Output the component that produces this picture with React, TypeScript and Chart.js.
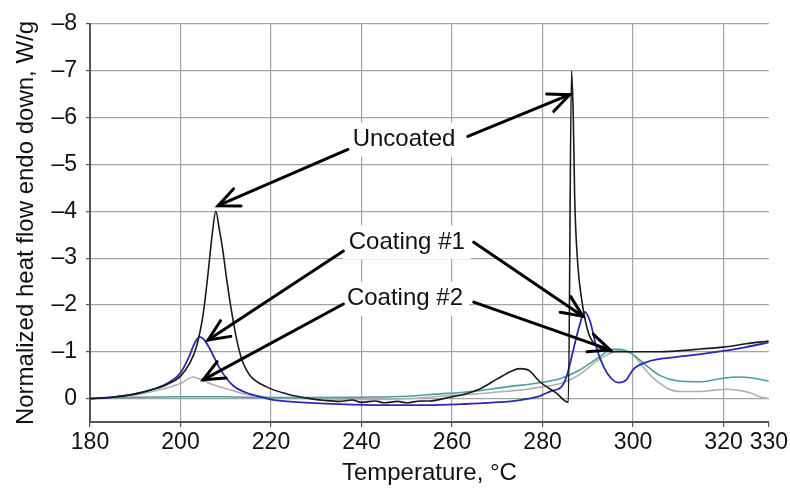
import { useEffect, useRef } from 'react';
import { Chart, registerables } from 'chart.js';

Chart.register(...registerables);

// ---- axis ticks ----
const xTickValues = [180, 200, 220, 240, 260, 280, 300, 320, 330];
const yTickValues = [-8, -7, -6, -5, -4, -3, -2, -1, 0];

// ---- Uncoated (black) ----
const uncoatedT = [180, 185, 190, 194, 197, 200, 202, 203.5, 205, 206, 207, 207.8, 208.6, 209.3, 210.2, 211.3, 212.7, 213.8, 215.3, 219, 223.5, 228.6, 232, 235, 238, 240, 243, 245, 248, 250, 253, 255, 259.5, 263, 266, 270, 273, 275, 277, 279.4, 283, 285.7, 286.4, 286.8, 287.1, 287.8, 288.6, 290, 292.7, 296, 300, 305, 310, 315, 320, 325, 330];
const uncoatedV = [0, -0.03, -0.1, -0.2, -0.3, -0.48, -0.75, -1.1, -1.8, -2.6, -3.5, -4.0, -3.6, -3.2, -2.55, -1.85, -1.13, -0.77, -0.5, -0.25, -0.1, 0, 0.04, 0.06, 0.03, 0.08, 0.05, 0.09, 0.06, 0.09, 0.05, 0.05, -0.03, -0.1, -0.2, -0.42, -0.58, -0.64, -0.6, -0.36, -0.12, 0.08, -7.0, -6.0, -4.3, -2.85, -2.15, -1.45, -1.08, -1.0, -1.0, -1.0, -1.02, -1.06, -1.1, -1.17, -1.23];

// ---- Coating #1 (blue) ----
const coating1T = [180, 185, 190, 194, 197, 200, 202, 203.2, 204.2, 205.2, 206.5, 208.7, 211.6, 215.3, 218, 221.3, 228.6, 235, 245, 255, 262, 268, 273, 277, 279.5, 281.6, 284.4, 285.4, 286.7, 288, 289.3, 290.5, 292, 293.4, 295, 296.8, 298.5, 300, 303, 309.7, 315, 320, 325, 330];
const coating1V = [0, -0.03, -0.1, -0.2, -0.32, -0.55, -0.92, -1.2, -1.32, -1.26, -1.06, -0.64, -0.28, -0.1, -0.03, 0.04, 0.09, 0.12, 0.14, 0.14, 0.12, 0.09, 0.06, 0.0, -0.06, -0.15, -0.28, -0.5, -1.0, -1.5, -1.85, -1.65, -1.06, -0.7, -0.45, -0.34, -0.4, -0.62, -0.78, -0.89, -0.95, -1.02, -1.1, -1.2];

// ---- Coating #2 (grey) ----
const coating2aT = [180, 185, 190, 195, 200, 202.8, 204.7, 206.5, 209, 211.6, 214, 216.9, 220, 230, 240, 250, 255, 260, 265, 270, 275, 280, 284, 288, 292, 295, 297, 299.5, 302, 304, 306, 308.8, 311, 314.7, 318, 320.6, 323, 326, 328, 330];
const coating2aV = [0, -0.03, -0.08, -0.18, -0.32, -0.46, -0.4, -0.32, -0.24, -0.17, -0.1, -0.06, -0.02, 0, 0.02, 0.0, -0.03, -0.07, -0.1, -0.14, -0.18, -0.25, -0.32, -0.5, -0.8, -0.97, -1.02, -0.98, -0.7, -0.48, -0.32, -0.17, -0.15, -0.15, -0.18, -0.2, -0.18, -0.12, -0.04, 0];

// ---- Coating #2 (teal) ----
const coating2bT = [180, 190, 200, 210, 215, 225, 240, 250, 257.3, 262, 266, 272, 279.4, 284, 288, 292, 295.5, 297, 299.7, 303, 306, 309.7, 314.7, 319, 323, 327, 330];
const coating2bV = [0, -0.03, -0.04, -0.04, -0.03, -0.02, -0.03, -0.05, -0.1, -0.13, -0.17, -0.25, -0.34, -0.43, -0.6, -0.85, -1.05, -1.05, -0.96, -0.7, -0.49, -0.38, -0.36, -0.42, -0.46, -0.43, -0.37];

// ---- annotation labels (data units) ----
const labelTexts = ['Uncoated', 'Coating #1', 'Coating #2'];
const labelT = [249.4, 250.0, 249.6];
const labelV = [-5.53, -3.34, -2.13];

// ---- annotation arrows (data units) ----
const arrowFromT = [237.0, 263.5, 236.0, 264.8, 236.0, 264.8];
const arrowFromV = [-5.32, -5.6, -3.15, -3.34, -2.02, -2.06];
const arrowToT = [208.3, 286.0, 206.1, 288.9, 205.0, 294.9];
const arrowToV = [-4.12, -6.49, -1.25, -1.76, -0.4, -1.04];

const toPoints = (t: number[], v: number[]) => t.map((x, i) => ({ x, y: v[i] }));

const FONT = "'Liberation Sans', Arial, sans-serif";

const annotationPlugin = {
  id: 'arrowLabels',
  afterDatasetsDraw(chart: any) {
    const { ctx, scales } = chart;
    const xs = scales.x;
    const ys = scales.y;
    ctx.save();
    ctx.font = `24px ${FONT}`;
    ctx.textAlign = 'center';
    ctx.textBaseline = 'middle';
    labelTexts.forEach((txt, i) => {
      const cx = xs.getPixelForValue(labelT[i]);
      const cy = ys.getPixelForValue(labelV[i]);
      const w = ctx.measureText(txt).width;
      ctx.fillStyle = '#ffffff';
      ctx.fillRect(cx - w / 2 - 6, cy - 17, w + 12, 34);
      ctx.fillStyle = '#111111';
      ctx.fillText(txt, cx, cy);
    });
    ctx.strokeStyle = '#000000';
    ctx.lineWidth = 3;
    ctx.lineCap = 'round';
    ctx.lineJoin = 'miter';
    arrowFromT.forEach((_, i) => {
      const x1 = xs.getPixelForValue(arrowFromT[i]);
      const y1 = ys.getPixelForValue(arrowFromV[i]);
      const x2 = xs.getPixelForValue(arrowToT[i]);
      const y2 = ys.getPixelForValue(arrowToV[i]);
      ctx.beginPath();
      ctx.moveTo(x1, y1);
      ctx.lineTo(x2, y2);
      ctx.stroke();
      const a = Math.atan2(y2 - y1, x2 - x1);
      const L = 23;
      const w = 0.42;
      ctx.beginPath();
      ctx.moveTo(x2 - L * Math.cos(a - w), y2 - L * Math.sin(a - w));
      ctx.lineTo(x2, y2);
      ctx.lineTo(x2 - L * Math.cos(a + w), y2 - L * Math.sin(a + w));
      ctx.stroke();
    });
    ctx.restore();
  },
};

export default function App() {
  const ref = useRef<HTMLCanvasElement>(null);

  useEffect(() => {
    if (!ref.current) return;
    Chart.defaults.font.family = FONT;
    const lineDs = (label: string, t: number[], v: number[], color: string, width: number) => ({
      label,
      data: toPoints(t, v),
      borderColor: color,
      backgroundColor: color,
      borderWidth: width,
      pointRadius: 0,
      fill: false,
      cubicInterpolationMode: 'monotone' as const,
    });
    const chart = new Chart(ref.current, {
      type: 'line',
      data: {
        datasets: [
          lineDs('Uncoated', uncoatedT, uncoatedV, '#1a1a1a', 1.6),
          lineDs('Coating #1', coating1T, coating1V, '#2a2ab0', 1.8),
          lineDs('Coating #2 (teal)', coating2bT, coating2bV, '#4a9e9e', 1.6),
          lineDs('Coating #2', coating2aT, coating2aV, '#b0b0b0', 1.6),
        ],
      },
      options: {
        responsive: false,
        animation: false,
        devicePixelRatio: 1,
        layout: { padding: { left: 0, right: 21, top: 24, bottom: 0 } },
        plugins: {
          legend: { display: false },
          tooltip: { enabled: false },
        },
        scales: {
          x: {
            type: 'linear',
            min: 180,
            max: 330,
            afterBuildTicks: (s: any) => {
              s.ticks = xTickValues.map((value) => ({ value }));
            },
            afterFit: (s: any) => {
              s.height = 66;
            },
            border: { color: '#555555', width: 2 },
            grid: {
              color: (c: any) => (c.tick && (c.tick.value === 330 || c.tick.value === 180) ? 'rgba(0,0,0,0)' : '#a3a3a3'),
              tickColor: '#555555',
              tickLength: 5,
              lineWidth: 1.2,
            },
            ticks: {
              autoSkip: false,
              maxRotation: 0,
              padding: 2,
              color: '#111111',
              font: { size: 23 },
              callback: (v: any) => String(v),
            },
            title: {
              display: true,
              text: 'Temperature, °C',
              color: '#111111',
              font: { size: 24 },
              padding: { top: 0, bottom: 0 },
            },
          },
          y: {
            type: 'linear',
            reverse: true,
            min: -8,
            max: 0.5,
            afterBuildTicks: (s: any) => {
              s.ticks = yTickValues.map((value) => ({ value }));
            },
            afterFit: (s: any) => {
              s.width = 90;
            },
            border: { color: '#555555', width: 2 },
            grid: {
              color: '#a3a3a3',
              tickColor: '#555555',
              tickLength: 4,
              lineWidth: 1.2,
            },
            ticks: {
              padding: 9,
              color: '#111111',
              font: { size: 23 },
              callback: (v: any) => (v === 0 ? '0' : '\u2013' + Math.abs(v)),
            },
            title: {
              display: true,
              text: 'Normalized heat flow endo down, W/g',
              color: '#111111',
              font: { size: 24 },
              padding: { top: 12, bottom: 0 },
            },
          },
        },
      },
      plugins: [annotationPlugin],
    });
    return () => chart.destroy();
  }, []);

  return (
    <div style={{ position: 'fixed', left: 0, top: 0, width: 790, height: 488, background: '#ffffff' }}>
      <canvas ref={ref} width={790} height={488} style={{ display: 'block', width: 790, height: 488 }} />
    </div>
  );
}
